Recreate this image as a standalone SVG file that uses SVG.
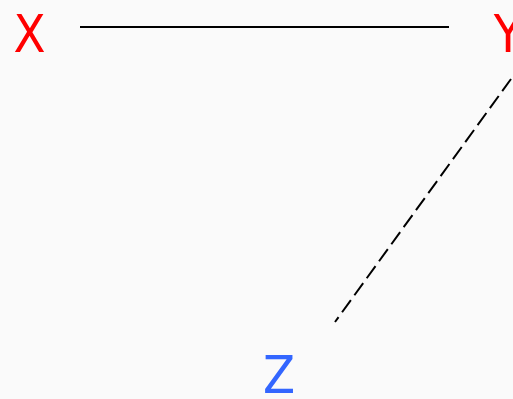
<svg xmlns="http://www.w3.org/2000/svg" width="513" height="399" viewBox="0 0 513 399">
<style>
.lbl{font-family:"DejaVu Sans",sans-serif;font-stretch:condensed;font-size:52px;text-anchor:middle}
.red{fill:#ff0000}.blue{fill:#3366ff}
.edge{stroke:#000;stroke-width:2;fill:none}
.dash{stroke-dasharray:15,6}
</style>
<rect width="513" height="399" fill="#fafafa"/>
<g id="edges">
<line class="edge" x1="80" y1="27" x2="449" y2="27"/>
<line class="edge dash" x1="511" y1="79" x2="335" y2="322"/>
</g>
<g id="X"><text class="lbl red" x="29.5" y="51.5">X</text></g>
<g id="Y"><text class="lbl red" x="508" y="51.5">Y</text></g>
<g id="Z"><text class="lbl blue" x="279" y="393">Z</text></g>
</svg>
